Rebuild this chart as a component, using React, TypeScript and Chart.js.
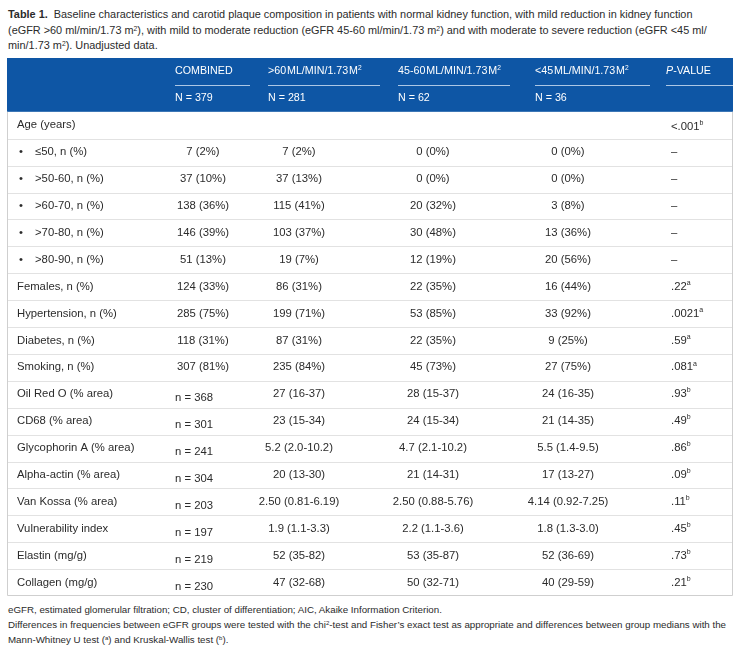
import React, { useEffect, useRef } from "react";
import { Chart, registerables } from "chart.js";

Chart.register(...registerables);

// ---------- data ----------
const rowKeys = ["hdr", "n"];
const rowLabels = [
  "Age (years)",
  "≤50, n (%)",
  ">50-60, n (%)",
  ">60-70, n (%)",
  ">70-80, n (%)",
  ">80-90, n (%)",
  "Females, n (%)",
  "Hypertension, n (%)",
  "Diabetes, n (%)",
  "Smoking, n (%)",
  "Oil Red O (% area)",
  "CD68 (% area)",
  "Glycophorin A (% area)",
  "Alpha-actin (% area)",
  "Van Kossa (% area)",
  "Vulnerability index",
  "Elastin (mg/g)",
  "Collagen (mg/g)",
];
const bulletRows = [false, true, true, true, true, true, false, false, false, false, false, false, false, false, false, false, false, false];
const columnHeaders = ["COMBINED", ">60\u200AML/MIN/1.73\u200AM^2", "45-60\u200AML/MIN/1.73\u200AM^2", "<45\u200AML/MIN/1.73\u200AM^2", "~P~-VALUE"];
const groupSizes = ["N = 379", "N = 281", "N = 62", "N = 36"];
const combined = ["", "7 (2%)", "37 (10%)", "138 (36%)", "146 (39%)", "51 (13%)", "124 (33%)", "285 (75%)", "118 (31%)", "307 (81%)", "n = 368", "n = 301", "n = 241", "n = 304", "n = 203", "n = 197", "n = 219", "n = 230"];
const gfrAbove60 = ["", "7 (2%)", "37 (13%)", "115 (41%)", "103 (37%)", "19 (7%)", "86 (31%)", "199 (71%)", "87 (31%)", "235 (84%)", "27 (16-37)", "23 (15-34)", "5.2 (2.0-10.2)", "20 (13-30)", "2.50 (0.81-6.19)", "1.9 (1.1-3.3)", "52 (35-82)", "47 (32-68)"];
const gfr45to60 = ["", "0 (0%)", "0 (0%)", "20 (32%)", "30 (48%)", "12 (19%)", "22 (35%)", "53 (85%)", "22 (35%)", "45 (73%)", "28 (15-37)", "24 (15-34)", "4.7 (2.1-10.2)", "21 (14-31)", "2.50 (0.88-5.76)", "2.2 (1.1-3.6)", "53 (35-87)", "50 (32-71)"];
const gfrBelow45 = ["", "0 (0%)", "0 (0%)", "3 (8%)", "13 (36%)", "20 (56%)", "16 (44%)", "33 (92%)", "9 (25%)", "27 (75%)", "24 (16-35)", "21 (14-35)", "5.5 (1.4-9.5)", "17 (13-27)", "4.14 (0.92-7.25)", "1.8 (1.3-3.0)", "52 (36-69)", "40 (29-59)"];
const pValues = ["<.001^b", "–", "–", "–", "–", "–", ".22^a", ".0021^a", ".59^a", ".081^a", ".93^b", ".49^b", ".86^b", ".09^b", ".11^b", ".45^b", ".73^b", ".21^b"];

// ---------- layout / style ----------
const FONT = '"Liberation Sans", Arial, Helvetica, sans-serif';
const TABLE_LEFT = 7;
const TABLE_RIGHT = 733;
const COL_STARTS = [175, 268, 398, 535, 666];
const COL_ENDS = [250, 380, 510, 650, 733];
const VALUE_CENTERS = [203, 299, 433, 568];
const P_LEFT = 671;
const HEADER_BG = "#0e56a5";
const TEXT = "#2b2b2b";
const BODY_SIZE = 11.3;
const HEAD_SIZE = 10.7;

type Seg = { text: string; sup: boolean; italic: boolean };
function parseRich(s: string): Seg[] {
  const segs: Seg[] = [];
  let italic = false;
  let buf = "";
  const flush = () => {
    if (buf) segs.push({ text: buf, sup: false, italic });
    buf = "";
  };
  for (let i = 0; i < s.length; i++) {
    const c = s[i];
    if (c === "~") {
      flush();
      italic = !italic;
    } else if (c === "^") {
      flush();
      segs.push({ text: s[i + 1] || "", sup: true, italic });
      i++;
    } else buf += c;
  }
  flush();
  return segs;
}
function drawRich(ctx: CanvasRenderingContext2D, s: string, x: number, y: number, align: string, size: number, color: string) {
  const segs = parseRich(s);
  const fontOf = (g: Seg) => `${g.italic ? "italic " : ""}${g.sup ? size * 0.62 : size}px ${FONT}`;
  let total = 0;
  const widths = segs.map((g) => {
    ctx.font = fontOf(g);
    const w = ctx.measureText(g.text).width;
    total += w;
    return w;
  });
  let cx = align === "center" ? x - total / 2 : align === "right" ? x - total : x;
  ctx.fillStyle = color;
  ctx.textAlign = "left";
  ctx.textBaseline = "middle";
  segs.forEach((g, i) => {
    ctx.font = fontOf(g);
    ctx.fillText(g.text, cx, g.sup ? y - size * 0.33 : y);
    cx += widths[i];
  });
}

const tablePlugin = {
  id: "tableCells",
  afterDraw(chart: any) {
    const ctx: CanvasRenderingContext2D = chart.ctx;
    const xs = chart.scales.x;
    const ys = chart.scales.y;
    const band = ys.getPixelForValue(1) - ys.getPixelForValue(0);
    const top = (i: number) => ys.getPixelForValue(i) - band / 2;
    const mid = (i: number) => ys.getPixelForValue(i);
    const X = (v: number) => xs.getPixelForValue(v);
    const L = X(TABLE_LEFT);
    const R = X(TABLE_RIGHT);
    const nRows = rowKeys.length + rowLabels.length;
    const bottom = top(nRows);
    ctx.save();
    // header background
    ctx.fillStyle = HEADER_BG;
    ctx.fillRect(L, top(0), R - L, band * 2);
    // header underlines
    ctx.strokeStyle = "rgba(200,218,240,0.85)";
    ctx.lineWidth = 1;
    COL_STARTS.forEach((s, i) => {
      ctx.beginPath();
      ctx.moveTo(X(s), Math.round(top(1)) + 0.5);
      ctx.lineTo(X(COL_ENDS[i]), Math.round(top(1)) + 0.5);
      ctx.stroke();
    });
    // header text
    columnHeaders.forEach((h, i) => drawRich(ctx, h, X(COL_STARTS[i]), mid(0), "left", HEAD_SIZE, "#ffffff"));
    groupSizes.forEach((h, i) => drawRich(ctx, h, X(COL_STARTS[i]), mid(1), "left", HEAD_SIZE, "#ffffff"));
    // row separators
    ctx.strokeStyle = "#e2e2e2";
    for (let r = 3; r < nRows; r++) {
      const y = Math.round(top(r)) + 0.5;
      ctx.beginPath();
      ctx.moveTo(L, y);
      ctx.lineTo(R, y);
      ctx.stroke();
    }
    // outer border
    ctx.strokeStyle = "#cfcfcf";
    ctx.beginPath();
    ctx.moveTo(Math.round(L) + 0.5, top(2));
    ctx.lineTo(Math.round(L) + 0.5, Math.round(bottom) - 0.5);
    ctx.lineTo(Math.round(R) - 0.5, Math.round(bottom) - 0.5);
    ctx.lineTo(Math.round(R) - 0.5, top(2));
    ctx.stroke();
    // body
    rowLabels.forEach((lab, k) => {
      const r = k + 2;
      const y = mid(r);
      if (bulletRows[k]) {
        drawRich(ctx, "•", X(19), y, "left", BODY_SIZE, TEXT);
        drawRich(ctx, lab, X(35), y, "left", BODY_SIZE, TEXT);
      } else {
        drawRich(ctx, lab, X(17), y, "left", BODY_SIZE, TEXT);
      }
      const c0 = combined[k];
      if (c0.startsWith("n =")) drawRich(ctx, c0, X(COL_STARTS[0]), y + 4, "left", BODY_SIZE, TEXT);
      else if (c0) drawRich(ctx, c0, X(VALUE_CENTERS[0]), y, "center", BODY_SIZE, TEXT);
      [gfrAbove60, gfr45to60, gfrBelow45].forEach((arr, j) => {
        if (arr[k]) drawRich(ctx, arr[k], X(VALUE_CENTERS[j + 1]), y, "center", BODY_SIZE, TEXT);
      });
      drawRich(ctx, pValues[k], X(P_LEFT), k === 0 ? y + 2 : y, "left", BODY_SIZE, TEXT);
    });
    ctx.restore();
  },
};

const sup = (t: string) => <sup style={{ fontSize: "0.62em", lineHeight: 0, verticalAlign: "0.45em" }}>{t}</sup>;

export default function App() {
  const ref = useRef<HTMLCanvasElement | null>(null);
  useEffect(() => {
    if (!ref.current) return;
    const chart = new Chart(ref.current, {
      type: "bar",
      data: { labels: [...rowKeys, ...rowLabels], datasets: [] },
      options: {
        animation: false,
        responsive: false,
        indexAxis: "y",
        layout: { padding: { top: 0, left: 0, right: 0, bottom: 1 } },
        plugins: { legend: { display: false }, tooltip: { enabled: false } },
        scales: {
          x: { type: "linear", min: 0, max: 741, display: false },
          y: { type: "category", display: false, offset: true },
        },
      } as any,
      plugins: [tablePlugin],
    });
    return () => chart.destroy();
  }, []);

  const textStyle: React.CSSProperties = {
    position: "absolute",
    left: 8,
    fontFamily: FONT,
    color: TEXT,
    whiteSpace: "nowrap",
  };

  return (
    <div style={{ position: "absolute", left: 0, top: 0, width: 741, height: 648, background: "#fff", overflow: "hidden" }}>
      <div style={{ ...textStyle, top: 7, fontSize: 10.9, lineHeight: "15.5px" }}>
        <div>
          <b>Table 1.</b>&nbsp; Baseline characteristics and carotid plaque composition in patients with normal kidney function, with mild reduction in kidney function
        </div>
        <div>
          (eGFR &gt;60 ml/min/1.73 m{sup("2")}), with mild to moderate reduction (eGFR 45-60 ml/min/1.73 m{sup("2")}) and with moderate to severe reduction (eGFR &lt;45 ml/
        </div>
        <div>min/1.73 m{sup("2")}). Unadjusted data.</div>
      </div>
      <canvas ref={ref} width={741} height={539} style={{ position: "absolute", left: 0, top: 58, width: 741, height: 539 }} />
      <div style={{ ...textStyle, top: 602, fontSize: 9.75, lineHeight: "15px" }}>
        <div>eGFR, estimated glomerular filtration; CD, cluster of differentiation; AIC, Akaike Information Criterion.</div>
        <div>
          Differences in frequencies between eGFR groups were tested with the chi{sup("2")}-test and Fisher’s exact test as appropriate and differences between group medians with the
        </div>
        <div>
          Mann-Whitney U test ({sup("a")}) and Kruskal-Wallis test ({sup("b")}).
        </div>
      </div>
    </div>
  );
}
